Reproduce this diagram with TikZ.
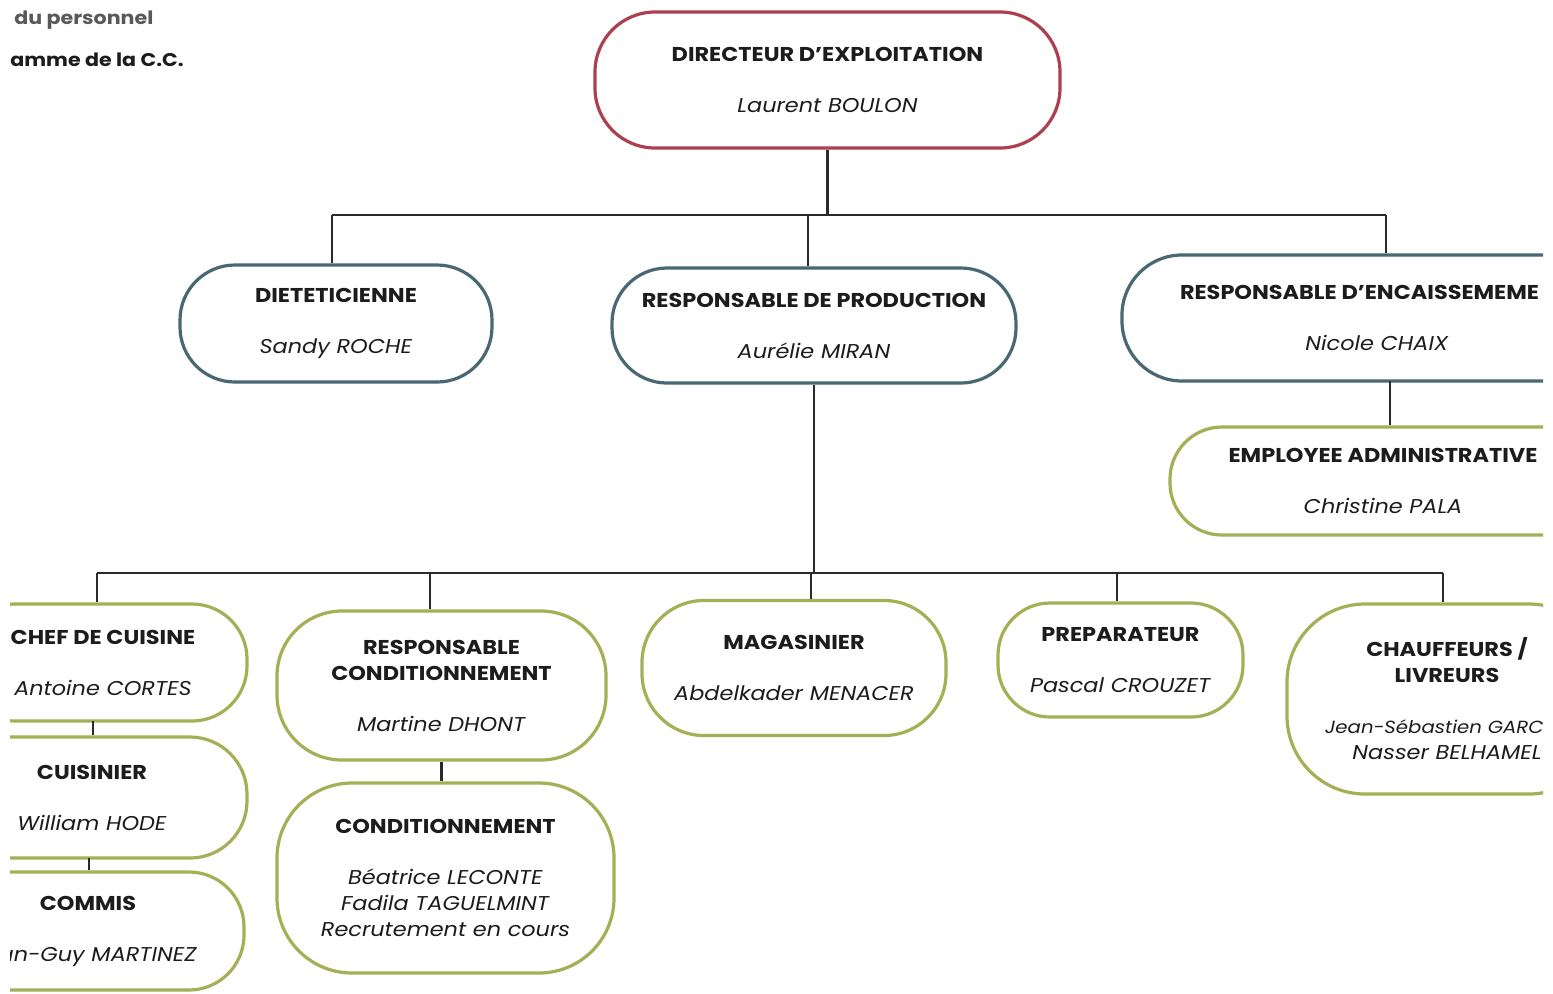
\documentclass[tikz,border=0pt]{standalone}
\usepackage{fontspec}
\setmainfont{Poppins}[FakeStretch=1.12]
\usetikzlibrary{calc}
\definecolor{redb}{HTML}{AD404F}
\definecolor{blueb}{HTML}{4A6874}
\definecolor{greenb}{HTML}{A4AF56}
\definecolor{connc}{HTML}{2A2A2A}
\definecolor{txt}{HTML}{1C1C1C}
\definecolor{hgray}{HTML}{5A585A}
\newcommand\PX{0.5pt}
\newcommand\TT[1]{\textbf{#1}}
\newcommand\NN[1]{\textit{#1}}
\begin{document}
\begin{tikzpicture}[x=0.5pt,y=-0.5pt,
  pill/.style={draw, line width=1.6pt, rectangle, inner sep=0pt, align=center, text=txt,
    font=\fontsize{10}{13}\selectfont},
  redpill/.style={pill, draw=redb},
  bluepill/.style={pill, draw=blueb},
  greenpill/.style={pill, draw=greenb},
  connline/.style={draw=connc, line width=1.3pt},
  head/.style={anchor=west, inner sep=0pt, font=\fontsize{9.2}{12}\selectfont\bfseries}]
\fill[white] (0,0) rectangle (1553,993);
\useasboundingbox (0,0) rectangle (1553,993);
\begin{scope}
\clip (10,0) rectangle (1543,993);
% header remnants
\node[head, text=hgray] (h1) at (14,20) {du personnel};
\node[head, text=txt] (h2) at (10,60) {amme de la C.C.};
% boxes
\node[redpill, minimum width=465*\PX, minimum height=136*\PX, rounded corners=60*\PX] (dir) at (827.5,80)
  {\TT{DIRECTEUR D’EXPLOITATION}\\[12.5pt]\NN{Laurent BOULON}};
\node[bluepill, minimum width=312*\PX, minimum height=117*\PX, rounded corners=55*\PX] (diet) at (336,323.5)
  {\TT{DIETETICIENNE}\\[12.5pt]\NN{Sandy ROCHE}};
\node[bluepill, minimum width=404*\PX, minimum height=115*\PX, rounded corners=55*\PX] (prod) at (814,325.5)
  {\TT{RESPONSABLE DE PRODUCTION}\\[12.5pt]\NN{Aurélie MIRAN}};
\node[bluepill, minimum width=510*\PX, minimum height=126*\PX, rounded corners=60*\PX] (enc) at (1377,318)
  {\makebox[197pt][l]{\TT{RESPONSABLE D’ENCAISSEMEME}}\\[12.5pt]\NN{Nicole CHAIX}};
\node[greenpill, minimum width=426*\PX, minimum height=108*\PX, rounded corners=52*\PX] (emp) at (1383,481)
  {\TT{EMPLOYEE ADMINISTRATIVE}\\[12.5pt]\NN{Christine PALA}};
\node[greenpill, minimum width=288*\PX, minimum height=117*\PX, rounded corners=55*\PX] (chef) at (103,662.5)
  {\TT{CHEF DE CUISINE}\\[12.5pt]\NN{Antoine CORTES}};
\node[greenpill, minimum width=310*\PX, minimum height=121*\PX, rounded corners=57*\PX] (cuis) at (92,797.5)
  {\TT{CUISINIER}\\[12.5pt]\NN{William HODE}};
\node[greenpill, minimum width=312*\PX, minimum height=118*\PX, rounded corners=55*\PX] (comm) at (88,931)
  {\TT{COMMIS}\\[12.5pt]\makebox[109pt][r]{\NN{an-Guy MARTINEZ}}};
\node[greenpill, minimum width=329*\PX, minimum height=149*\PX, rounded corners=65*\PX] (rc) at (441.5,685.5)
  {\TT{RESPONSABLE}\\\TT{CONDITIONNEMENT}\\[12.5pt]\NN{Martine DHONT}};
\node[greenpill, minimum width=337*\PX, minimum height=190*\PX, rounded corners=75*\PX] (cond) at (445.5,878)
  {\TT{CONDITIONNEMENT}\\[12.5pt]\NN{Béatrice LECONTE}\\\NN{Fadila TAGUELMINT}\\\NN{Recrutement en cours}};
\node[greenpill, minimum width=304*\PX, minimum height=135*\PX, rounded corners=62*\PX] (mag) at (794,668)
  {\TT{MAGASINIER}\\[12.5pt]\NN{Abdelkader MENACER}};
\node[greenpill, minimum width=245*\PX, minimum height=114*\PX, rounded corners=52*\PX] (prep) at (1120.5,660)
  {\TT{PREPARATEUR}\\[12.5pt]\NN{Pascal CROUZET}};
\node[greenpill, minimum width=320*\PX, minimum height=190*\PX, rounded corners=78*\PX] (chauf) at (1447,699)
  {\TT{CHAUFFEURS /}\\\TT{LIVREURS}\\[12.5pt]\makebox[122pt][l]{\fontsize{8.8}{13}\selectfont\NN{Jean-Sébastien GARC}}\\\NN{Nasser BELHAMEL}};
% connectors, level 1
\coordinate (t1) at (332,215);
\coordinate (t2) at (808,215);
\coordinate (t3) at (1386,215);
\draw[connline] (dir.south) -- (dir.south |- t1);
\draw[connline] (t1) -- (t3);
\draw[connline] (t1) -- (t1 |- diet.north);
\draw[connline] (t2) -- (t2 |- prod.north);
\draw[connline] (t3) -- (t3 |- enc.north);
\coordinate (e1) at (1390,381);
\draw[connline] (e1) -- (e1 |- emp.north);
% connectors, level 2
\coordinate (d1) at (97,573);
\coordinate (d2) at (430,573);
\coordinate (d3) at (811,573);
\coordinate (d4) at (1117,573);
\coordinate (d5) at (1443,573);
\draw[connline] (prod.south) -- (prod.south |- d3);
\draw[connline] (d1) -- (d5);
\draw[connline] (d1) -- (d1 |- chef.north);
\draw[connline] (d2) -- (d2 |- rc.north);
\draw[connline] (d3) -- (d3 |- mag.north);
\draw[connline] (d4) -- (d4 |- prep.north);
\draw[connline] (d5) -- (d5 |- chauf.north);
% small links
\coordinate (k1) at (93,721);
\coordinate (k2) at (89,858);
\draw[connline] (k1) -- (k1 |- cuis.north);
\draw[connline] (k2) -- (k2 |- comm.north);
\draw[connline] (rc.south) -- (rc.south |- cond.north);
\end{scope}
\end{tikzpicture}
\end{document}
